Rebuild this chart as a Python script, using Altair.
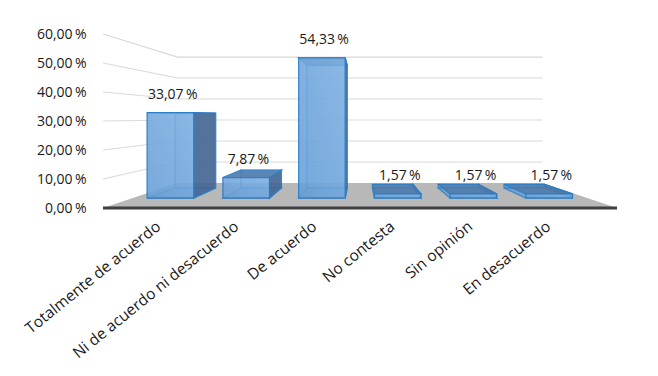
import altair as alt
import pandas as pd

categories = ["Totalmente de acuerdo", "Ni de acuerdo ni desacuerdo", "De acuerdo",
              "No contesta", "Sin opinión", "En desacuerdo"]
values = [33.07, 7.87, 54.33, 1.57, 1.57, 1.57]
value_labels = ["33,07\u2009%", "7,87\u2009%", "54,33\u2009%", "1,57\u2009%", "1,57\u2009%", "1,57\u2009%"]
ticks = [0, 10, 20, 30, 40, 50, 60]

FONT = "Open Sans"
INK = "#1a1a1a"
GRID = "#d9d9d9"
EDGE = "#2a7cc6"
N = len(categories)
D_FRONT, D_BACK = 0.4, 0.8
B0, B1 = 0.19, 0.805


def px(u, d):
    return (u - N / 2) * (1 - 0.29 * d)


def py(v, d):
    return v * (1 - 0.276 * d) + 8.62 * d


vert = {k: [] for k in ["back", "left", "right", "front"]}
horiz = {k: [] for k in ["bottom", "top"]}
labels = []
for i, (c, v, t) in enumerate(zip(categories, values, value_labels)):
    ul, ur = i + B0, i + B1

    def add_v(face, pts):
        for (u, d) in pts:
            vert[face].append({"bar": c, "x": px(u, d), "y": py(v, d), "y2": py(0, d)})

    def add_h(face, val):
        for d in (D_FRONT, D_BACK):
            horiz[face].append({"bar": c, "y": py(val, d), "x": px(ul, d), "x2": px(ur, d)})

    add_v("back", [(ul, D_BACK), (ur, D_BACK)])
    add_v("left", [(ul, D_FRONT), (ul, D_BACK)])
    add_v("right", [(ur, D_FRONT), (ur, D_BACK)])
    add_v("front", [(ul, D_FRONT), (ur, D_FRONT)])
    add_h("bottom", 0)
    add_h("top", v)
    labels.append({"x": px(i + 0.5, D_FRONT), "y": py(v, D_FRONT), "t": t})

xs = alt.Scale(domain=[-N / 2, N / 2], nice=False, zero=False)
ys = alt.Scale(domain=[0, 60], nice=False)
X = alt.X("x:Q", scale=xs, axis=None)
YN = alt.Y("y:Q", scale=ys, axis=None)


def vface(name, **kw):
    return alt.Chart(pd.DataFrame(vert[name])).mark_area(orient="vertical", stroke=EDGE, strokeWidth=1.3, **kw).encode(
        x=X, y=YN, y2="y2:Q", detail="bar:N")


def hface(name, **kw):
    return alt.Chart(pd.DataFrame(horiz[name])).mark_area(orient="horizontal", stroke=EDGE, strokeWidth=1.3, **kw).encode(
        y=YN, x=X, x2="x2:Q", detail="bar:N")


# walls: gridlines running along the left wall and back wall
wall_rows = []
for v in ticks[1:]:
    for (u, d) in [(0, 0), (0, 1), (N, 1)]:
        wall_rows.append({"v": v, "x": px(u, d), "y": py(v, d), "o": len(wall_rows)})
walls = alt.Chart(pd.DataFrame(wall_rows)).mark_line(color=GRID, strokeWidth=1.2).encode(
    x=X, y=YN, detail="v:N", order="o:Q")

floor_df = pd.DataFrame([{"y": py(0, d), "x": px(0, d), "x2": px(N, d)} for d in (0, 1)])
floor = alt.Chart(floor_df).mark_area(orient="horizontal", color="#b8b8b8").encode(
    y=YN, x=X, x2="x2:Q")
base_line = alt.Chart(pd.DataFrame([{"x": px(0, 0), "x2": px(N, 0), "y": 0}])).mark_rule(
    color="#3f3f3f", strokeWidth=3).encode(x=X, x2="x2:Q", y=YN)

front_fill = alt.Gradient(gradient="linear", x1=0, x2=1, y1=1, y2=0,
                          stops=[alt.GradientStop(color="#669fd8", offset=0),
                                 alt.GradientStop(color="#84b4e4", offset=1)])

data_labels = alt.Chart(pd.DataFrame(labels)).mark_text(
    font=FONT, fontSize=14, color=INK, yOffset=-18, xOffset=2, baseline="middle").encode(
    x=X, y=YN, text="t:N")

axes = alt.Chart(pd.DataFrame({"c": categories, "z": [0] * N})).mark_point(opacity=0).encode(
    x=alt.X("c:N", sort=categories, title=None,
            scale=alt.Scale(domain=categories, range=[26.0, 494.0], paddingInner=0, paddingOuter=0),
            axis=alt.Axis(domain=False, ticks=False, grid=False, labelAngle=-39, labelAlign="right",
                          labelBaseline="middle", labelFont=FONT, labelFontSize=15.5, labelColor=INK,
                          labelPadding=16, labelOffset=-10, labelLimit=300, labelOverlap=False)),
    y=alt.Y("z:Q", scale=ys,
            axis=alt.Axis(values=ticks, domain=False, ticks=False, grid=False, title=None,
                          labelExpr="replace(format(datum.value,'.2f'),'.',',')+'\u2009%'",
                          labelFont=FONT, labelFontSize=14, labelColor=INK, labelPadding=17)))

geometry = alt.layer(
    walls, floor,
    vface("back", color="#6aa3db", opacity=0.55),
    vface("left", color="#6aa3db", opacity=0.45),
    hface("bottom", color="#5f9bd6", opacity=0.6),
    vface("right", color="#44648f", opacity=0.85),
    hface("top", color="#4f7aa8", opacity=0.85),
    vface("front", fill=front_fill, opacity=0.8),
    base_line, data_labels,
)

chart = alt.layer(axes, geometry).resolve_scale(x="independent").resolve_axis(y="independent").properties(
    width=514, height=174,
    padding={"left": 95, "top": 26, "right": 33, "bottom": 160},
    autosize=alt.AutoSizeParams(type="none"),
    background="white",
).configure_view(strokeWidth=0)

chart.save("out.html", embed_options={"renderer": "svg", "actions": False})
